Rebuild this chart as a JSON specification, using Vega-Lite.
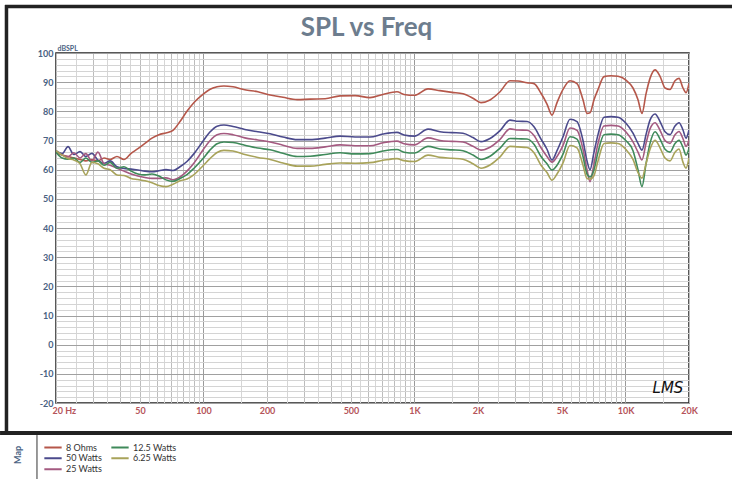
{
  "$schema": "https://vega.github.io/schema/vega-lite/v6.json",
  "width": 633,
  "height": 350,
  "autosize": {"type": "none"},
  "padding": {"left": 56, "top": 53, "right": 43, "bottom": 76},
  "background": "white",
  "title": {"text": "SPL vs Freq", "fontSize": 26, "font": "Lato", "fontWeight": "bold", "color": "#6d7d8e", "anchor": "middle", "offset": -38, "dx": -6},
  "config": {"view": {"stroke": "#222222", "strokeWidth": 1.5}, "font": "Lato"},
  "layer": [
    {
      "data": {"values": [
        {"f":20,"ohm8":66,"w50":66.5,"w25":66,"w12_5":66,"w6_25":66.5},
        {"f":21.4,"ohm8":65,"w50":65.5,"w25":65,"w12_5":64,"w6_25":65},
        {"f":22.8,"ohm8":64.5,"w50":67.9,"w25":64.4,"w12_5":63.6,"w6_25":63.8},
        {"f":24.3,"ohm8":64,"w50":65.2,"w25":65.8,"w12_5":64,"w6_25":63.3},
        {"f":26,"ohm8":63.5,"w50":66.2,"w25":64,"w12_5":62.5,"w6_25":62},
        {"f":27.7,"ohm8":63,"w50":64.5,"w25":65.5,"w12_5":64,"w6_25":58.2},
        {"f":29.6,"ohm8":63.5,"w50":65.6,"w25":63,"w12_5":62.5,"w6_25":62.5},
        {"f":31.6,"ohm8":63,"w50":63.3,"w25":66,"w12_5":63,"w6_25":62},
        {"f":33.8,"ohm8":64,"w50":62.2,"w25":62,"w12_5":61.5,"w6_25":60.5},
        {"f":36.1,"ohm8":63.5,"w50":63,"w25":61.5,"w12_5":62.5,"w6_25":60},
        {"f":38.9,"ohm8":64.5,"w50":61,"w25":60.5,"w12_5":60.5,"w6_25":58.2},
        {"f":42,"ohm8":63.5,"w50":60.4,"w25":59.5,"w12_5":61,"w6_25":58},
        {"f":45.4,"ohm8":65.6,"w50":60.2,"w25":58.5,"w12_5":59.5,"w6_25":57},
        {"f":48.9,"ohm8":67.2,"w50":59.9,"w25":57.8,"w12_5":58.5,"w6_25":56.6},
        {"f":52.8,"ohm8":69,"w50":59.5,"w25":57.3,"w12_5":58.2,"w6_25":56.2},
        {"f":57,"ohm8":70.8,"w50":59.3,"w25":57,"w12_5":58.5,"w6_25":55.5},
        {"f":61.5,"ohm8":72,"w50":59.6,"w25":57,"w12_5":57.8,"w6_25":54.6},
        {"f":66.4,"ohm8":72.6,"w50":60,"w25":57.2,"w12_5":56.5,"w6_25":54.2},
        {"f":71.7,"ohm8":73.5,"w50":59.7,"w25":56.5,"w12_5":56,"w6_25":55},
        {"f":77.4,"ohm8":76.5,"w50":61,"w25":57.5,"w12_5":57,"w6_25":56.2},
        {"f":83.5,"ohm8":80,"w50":62.8,"w25":59.5,"w12_5":58.3,"w6_25":56.8},
        {"f":90.2,"ohm8":83,"w50":65.5,"w25":62.3,"w12_5":60.5,"w6_25":58.3},
        {"f":100,"ohm8":86,"w50":70,"w25":67,"w12_5":64,"w6_25":61.5},
        {"f":107,"ohm8":87.5,"w50":72.8,"w25":69.8,"w12_5":66.6,"w6_25":63.7},
        {"f":116,"ohm8":88.4,"w50":74.9,"w25":72,"w12_5":68.9,"w6_25":65.9},
        {"f":125,"ohm8":88.7,"w50":75.3,"w25":72.4,"w12_5":69.5,"w6_25":66.6},
        {"f":138,"ohm8":88.4,"w50":74.8,"w25":72,"w12_5":69.3,"w6_25":66.4},
        {"f":157,"ohm8":87.4,"w50":73.8,"w25":70.9,"w12_5":68.4,"w6_25":65.2},
        {"f":181,"ohm8":86.7,"w50":73,"w25":70.2,"w12_5":67.4,"w6_25":64.2},
        {"f":207,"ohm8":85.6,"w50":72.3,"w25":69.5,"w12_5":66.8,"w6_25":63.5},
        {"f":238,"ohm8":84.8,"w50":71.2,"w25":68.4,"w12_5":65.6,"w6_25":62.3},
        {"f":278,"ohm8":84,"w50":70.3,"w25":67.3,"w12_5":64.5,"w6_25":61.2},
        {"f":320,"ohm8":84.2,"w50":70.3,"w25":67.3,"w12_5":64.6,"w6_25":61.2},
        {"f":377,"ohm8":84.3,"w50":70.8,"w25":67.8,"w12_5":65.2,"w6_25":61.8},
        {"f":444,"ohm8":85.3,"w50":71.5,"w25":68.5,"w12_5":65.8,"w6_25":62.3},
        {"f":523,"ohm8":85.4,"w50":71.2,"w25":68.2,"w12_5":65.4,"w6_25":62.2},
        {"f":615,"ohm8":84.7,"w50":71.2,"w25":68.2,"w12_5":65.5,"w6_25":62.4},
        {"f":709,"ohm8":85.8,"w50":72.2,"w25":69.2,"w12_5":66.4,"w6_25":63.2},
        {"f":826,"ohm8":86.7,"w50":72.8,"w25":69.8,"w12_5":66.9,"w6_25":63.8},
        {"f":892,"ohm8":85.8,"w50":71.9,"w25":68.9,"w12_5":66,"w6_25":63.1},
        {"f":1000,"ohm8":85.5,"w50":71.5,"w25":68.5,"w12_5":65.7,"w6_25":62.8},
        {"f":1159,"ohm8":87.7,"w50":73.9,"w25":70.9,"w12_5":68,"w6_25":65},
        {"f":1321,"ohm8":87.1,"w50":73,"w25":70,"w12_5":67.1,"w6_25":64.2},
        {"f":1506,"ohm8":86.5,"w50":72.7,"w25":69.7,"w12_5":66.8,"w6_25":63.9},
        {"f":1698,"ohm8":86,"w50":72.5,"w25":69.5,"w12_5":66.5,"w6_25":63.6},
        {"f":1894,"ohm8":84.5,"w50":71,"w25":68,"w12_5":65,"w6_25":62},
        {"f":2066,"ohm8":83,"w50":69.6,"w25":66.7,"w12_5":63.5,"w6_25":60.5},
        {"f":2280,"ohm8":83.9,"w50":70.7,"w25":67.7,"w12_5":64.6,"w6_25":61.6},
        {"f":2544,"ohm8":86.7,"w50":73.4,"w25":70.4,"w12_5":67.4,"w6_25":64.4},
        {"f":2836,"ohm8":90.5,"w50":77,"w25":74,"w12_5":70.7,"w6_25":68},
        {"f":3094,"ohm8":90.4,"w50":76.6,"w25":73.6,"w12_5":70.6,"w6_25":67.8},
        {"f":3414,"ohm8":89.8,"w50":76.5,"w25":73.5,"w12_5":70.5,"w6_25":67.6},
        {"f":3684,"ohm8":89.5,"w50":74.7,"w25":71.7,"w12_5":68.7,"w6_25":65.8},
        {"f":3978,"ohm8":86.2,"w50":70.5,"w25":67.5,"w12_5":64.5,"w6_25":61.5},
        {"f":4246,"ohm8":82.5,"w50":67,"w25":64.5,"w12_5":62,"w6_25":59},
        {"f":4485,"ohm8":78.7,"w50":63.3,"w25":62.6,"w12_5":59.9,"w6_25":56.4},
        {"f":4737,"ohm8":83,"w50":66.5,"w25":64.5,"w12_5":61.5,"w6_25":58.5},
        {"f":5057,"ohm8":87.5,"w50":71.3,"w25":68.3,"w12_5":65.3,"w6_25":62.3},
        {"f":5458,"ohm8":90.5,"w50":77.3,"w25":74.3,"w12_5":71.3,"w6_25":68.3},
        {"f":5892,"ohm8":89.5,"w50":76.5,"w25":73.5,"w12_5":70.5,"w6_25":67.5},
        {"f":6290,"ohm8":84,"w50":70,"w25":67,"w12_5":64.5,"w6_25":61.5},
        {"f":6572,"ohm8":79.3,"w50":63,"w25":60,"w12_5":58.5,"w6_25":57},
        {"f":6790,"ohm8":79.5,"w50":60,"w25":55.9,"w12_5":57.5,"w6_25":56.8},
        {"f":7093,"ohm8":84,"w50":66,"w25":62,"w12_5":60,"w6_25":58},
        {"f":7410,"ohm8":87.5,"w50":72,"w25":69,"w12_5":66,"w6_25":63},
        {"f":7912,"ohm8":91.9,"w50":78,"w25":75,"w12_5":72,"w6_25":69},
        {"f":8538,"ohm8":92.2,"w50":78.2,"w25":75.2,"w12_5":72.2,"w6_25":69.2},
        {"f":9216,"ohm8":92,"w50":78,"w25":75,"w12_5":72,"w6_25":69},
        {"f":10056,"ohm8":90.7,"w50":75.9,"w25":72.9,"w12_5":69.9,"w6_25":66.9},
        {"f":10854,"ohm8":88,"w50":72.5,"w25":69.5,"w12_5":66.5,"w6_25":63.5},
        {"f":11463,"ohm8":84,"w50":69,"w25":66,"w12_5":60,"w6_25":59},
        {"f":11974,"ohm8":79.3,"w50":66.7,"w25":63.3,"w12_5":54.2,"w6_25":57.1},
        {"f":12511,"ohm8":86,"w50":72,"w25":69,"w12_5":62,"w6_25":62},
        {"f":13070,"ohm8":91.3,"w50":77,"w25":74,"w12_5":69,"w6_25":67},
        {"f":13804,"ohm8":94.2,"w50":79.1,"w25":76.1,"w12_5":73,"w6_25":70.1},
        {"f":14578,"ohm8":92,"w50":76.5,"w25":73.5,"w12_5":70.5,"w6_25":67.5},
        {"f":15396,"ohm8":88,"w50":73,"w25":70,"w12_5":67,"w6_25":64},
        {"f":16257,"ohm8":87.5,"w50":72,"w25":69,"w12_5":66,"w6_25":63},
        {"f":17166,"ohm8":90.5,"w50":75,"w25":72,"w12_5":69,"w6_25":66},
        {"f":17934,"ohm8":91.3,"w50":76.1,"w25":73.1,"w12_5":70.1,"w6_25":67.1},
        {"f":18734,"ohm8":88,"w50":73.6,"w25":70.6,"w12_5":67.6,"w6_25":62.5},
        {"f":19356,"ohm8":86.4,"w50":70.8,"w25":68,"w12_5":65,"w6_25":60.5},
        {"f":20000,"ohm8":89.6,"w50":73.6,"w25":70.2,"w12_5":67.3,"w6_25":64}
      ]},
      "transform": [{"fold": ["ohm8", "w50", "w25", "w12_5", "w6_25"], "as": ["series", "spl"]}],
      "mark": {"type": "line", "strokeWidth": 1.6, "interpolate": "monotone", "clip": true},
      "encoding": {
        "x": {
          "field": "f", "type": "quantitative",
          "scale": {"type": "log", "domain": [20, 20000], "nice": false},
          "axis": {
            "values": [20,25,30,35,40,45,50,55,60,65,70,75,80,85,90,95,100,150,200,250,300,350,400,450,500,550,600,650,700,750,800,850,900,950,1000,1500,2000,2500,3000,3500,4000,4500,5000,5500,6000,6500,7000,7500,8000,8500,9000,9500,10000,15000,20000],
            "tickCount": 500,
            "title": null,
            "ticks": false,
            "domain": false,
            "grid": true,
            "gridColor": {"condition": [
              {"test": "datum.value == 100 || datum.value == 1000 || datum.value == 10000", "value": "#9a9a9a"},
              {"test": "(datum.value / pow(10, floor(log(datum.value) / LN10 + 1e-9))) % 1 == 0", "value": "#bcbcbc"}
            ], "value": "#d6d6d6"},
            "labelExpr": "indexof([20,50,100,200,500,1000,2000,5000,10000,20000], datum.value) >= 0 ? (datum.value >= 1000 ? (datum.value / 1000) + 'K' : (datum.value == 20 ? '20  Hz' : '' + datum.value)) : ''",
            "labelAlign": {"condition": {"test": "datum.value == 20", "value": "left"}, "value": "center"},
            "labelOffset": {"condition": {"test": "datum.value == 20", "value": -4}, "value": 0},
            "labelColor": "#b5545a",
            "labelFontWeight": "bold",
            "labelFontSize": 9,
            "labelFont": "Lato",
            "labelPadding": 3,
            "labelOverlap": false,
            "labelFlush": false
          }
        },
        "y": {
          "field": "spl", "type": "quantitative",
          "scale": {"domain": [-20, 100], "nice": false, "zero": false},
          "axis": {
            "values": [-20,-18,-16,-14,-12,-10,-8,-6,-4,-2,0,2,4,6,8,10,12,14,16,18,20,22,24,26,28,30,32,34,36,38,40,42,44,46,48,50,52,54,56,58,60,62,64,66,68,70,72,74,76,78,80,82,84,86,88,90,92,94,96,98,100],
            "tickCount": 500,
            "title": "dBSPL",
            "titleAngle": 0,
            "titleX": 1,
            "titleY": -2,
            "titleAlign": "left",
            "titleBaseline": "bottom",
            "titleFontSize": 7,
            "titleFontWeight": "bold",
            "titleColor": "#4a6283",
            "ticks": false,
            "domain": false,
            "grid": true,
            "gridColor": {"condition": {"test": "datum.value % 10 == 0", "value": "#a0a0a0"}, "value": "#d4d4d4"},
            "labelExpr": "datum.value % 10 == 0 ? '' + datum.value : ''",
            "labelColor": "#4a6283",
            "labelFontWeight": "bold",
            "labelFontSize": 9,
            "labelFont": "Lato",
            "labelPadding": 3,
            "labelOverlap": false,
            "labelFlush": false
          }
        },
        "color": {
          "field": "series", "type": "nominal",
          "scale": {
            "domain": ["ohm8", "w50", "w25", "w12_5", "w6_25"],
            "range": ["#b5574a", "#4b4a8c", "#a45a80", "#3f8a5a", "#a8a35a"]
          },
          "legend": {
            "orient": "none",
            "legendX": -13,
            "legendY": 389,
            "title": null,
            "columns": 2,
            "symbolType": "stroke",
            "symbolSize": 300,
            "symbolStrokeWidth": 2,
            "labelFontSize": 9,
            "labelFont": "Lato",
            "labelColor": "#333333",
            "labelOffset": 3,
            "columnPadding": 7,
            "rowPadding": 0,
            "clipHeight": 10.5,
            "labelExpr": "datum.value == 'ohm8' ? '8 Ohms' : datum.value == 'w50' ? '50 Watts' : datum.value == 'w25' ? '25 Watts' : datum.value == 'w12_5' ? '12.5 Watts' : '6.25 Watts'"
          }
        }
      }
    },
    {
      "data": {"values": [{"logo": "LMS"}]},
      "mark": {"type": "text", "font": "DejaVu Sans", "fontStyle": "italic", "fontSize": 15, "color": "#111111"},
      "encoding": {
        "x": {"datum": 15900, "type": "quantitative", "scale": {"type": "log", "domain": [20, 20000], "nice": false}},
        "y": {"datum": -15, "type": "quantitative", "scale": {"domain": [-20, 100], "nice": false, "zero": false}},
        "text": {"field": "logo"}
      }
    },
    {
      "data": {"values": [{"label": "Map"}]},
      "mark": {"type": "text", "font": "Lato", "fontWeight": "bold", "fontSize": 9, "angle": 270, "color": "#4a6283", "clip": false},
      "encoding": {
        "x": {"datum": 13.2, "type": "quantitative", "scale": {"type": "log", "domain": [20, 20000], "nice": false}},
        "y": {"datum": -37.8, "type": "quantitative", "scale": {"domain": [-20, 100], "nice": false, "zero": false}},
        "text": {"field": "label"}
      }
    },
    {
      "data": {"values": [{"part": "top frame"}]},
      "mark": {"type": "rule", "color": "#222222", "strokeWidth": 3.5, "clip": false},
      "encoding": {
        "x": {"datum": 11.47, "type": "quantitative", "scale": {"type": "log", "domain": [20, 20000], "nice": false}},
        "x2": {"datum": 31990},
        "y": {"datum": 115.94, "type": "quantitative", "scale": {"domain": [-20, 100], "nice": false, "zero": false}}
      }
    },
    {
      "data": {"values": [{"part": "left frame"}]},
      "mark": {"type": "rule", "color": "#222222", "strokeWidth": 3.5, "clip": false},
      "encoding": {
        "x": {"datum": 11.65, "type": "quantitative", "scale": {"type": "log", "domain": [20, 20000], "nice": false}},
        "y": {"datum": 116.5, "type": "quantitative", "scale": {"domain": [-20, 100], "nice": false, "zero": false}},
        "y2": {"datum": -30.3}
      }
    },
    {
      "data": {"values": [{"part": "separator"}]},
      "mark": {"type": "rule", "color": "#222222", "strokeWidth": 4, "clip": false},
      "encoding": {
        "x": {"datum": 10.86, "type": "quantitative", "scale": {"type": "log", "domain": [20, 20000], "nice": false}},
        "x2": {"datum": 31990},
        "y": {"datum": -30.3, "type": "quantitative", "scale": {"domain": [-20, 100], "nice": false, "zero": false}}
      }
    },
    {
      "data": {"values": [{"part": "legend divider"}]},
      "mark": {"type": "rule", "color": "#333333", "strokeWidth": 1, "clip": false},
      "encoding": {
        "x": {"datum": 16.25, "type": "quantitative", "scale": {"type": "log", "domain": [20, 20000], "nice": false}},
        "y": {"datum": -31, "type": "quantitative", "scale": {"domain": [-20, 100], "nice": false, "zero": false}},
        "y2": {"datum": -46.1}
      }
    }
  ]
}
